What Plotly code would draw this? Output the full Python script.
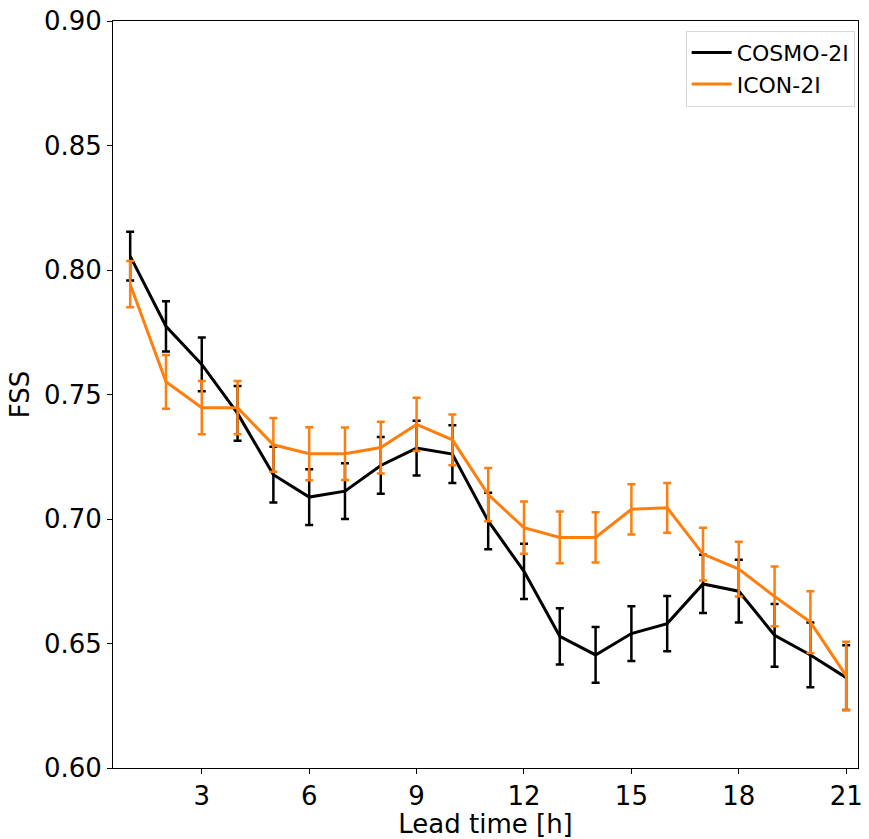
import plotly.graph_objects as go

lead_time = list(range(1, 22))

cosmo_fss = [0.8056, 0.7774, 0.7621, 0.7424, 0.7178, 0.7088, 0.7112, 0.7215, 0.7285, 0.7261,
             0.6992, 0.6790, 0.6529, 0.6454, 0.6540, 0.6580, 0.6739, 0.6710, 0.6533, 0.6454, 0.6363]
cosmo_err = [0.0098, 0.0101, 0.0108, 0.0110, 0.0112, 0.0112, 0.0112, 0.0114, 0.0110, 0.0116,
             0.0113, 0.0111, 0.0113, 0.0112, 0.0110, 0.0111, 0.0117, 0.0126, 0.0126, 0.0130, 0.0130]

icon_fss = [0.7943, 0.7551, 0.7447, 0.7447, 0.7298, 0.7262, 0.7262, 0.7287, 0.7380, 0.7318,
            0.7098, 0.6965, 0.6926, 0.6926, 0.7039, 0.7045, 0.6859, 0.6799, 0.6689, 0.6586, 0.6370]
icon_err = [0.0093, 0.0108, 0.0107, 0.0107, 0.0108, 0.0106, 0.0105, 0.0104, 0.0107, 0.0102,
            0.0107, 0.0105, 0.0104, 0.0101, 0.0101, 0.0100, 0.0106, 0.0110, 0.0120, 0.0124, 0.0137]

x_ticks = [3, 6, 9, 12, 15, 18, 21]
y_ticks = [0.60, 0.65, 0.70, 0.75, 0.80, 0.85, 0.90]

FONT = "DejaVu Sans"

fig = go.Figure()
fig.add_trace(go.Scatter(
    x=lead_time, y=cosmo_fss, mode="lines", name="COSMO-2I",
    line=dict(color="black", width=3),
    error_y=dict(type="data", array=cosmo_err, visible=True, color="black",
                 thickness=2.5, width=4),
))
fig.add_trace(go.Scatter(
    x=lead_time, y=icon_fss, mode="lines", name="ICON-2I",
    line=dict(color="#ff7f0e", width=3),
    error_y=dict(type="data", array=icon_err, visible=True, color="#ff7f0e",
                 thickness=2.5, width=4),
))

axis_common = dict(
    showline=True, linecolor="black", linewidth=1, mirror=True,
    ticks="outside", ticklen=5, tickwidth=1, tickcolor="black",
    showgrid=False, zeroline=False,
    tickfont=dict(family=FONT, size=26, color="black"),
)

fig.update_layout(
    width=869, height=839,
    margin=dict(l=113, r=6, t=20, b=67),
    paper_bgcolor="white", plot_bgcolor="white",
    font=dict(family=FONT, size=26, color="black"),
    xaxis=dict(range=[0.52, 21.33], tickvals=x_ticks, ticktext=[str(v) for v in x_ticks],
               title=dict(text="Lead time [h]", font=dict(family=FONT, size=26), standoff=4),
               **axis_common),
    yaxis=dict(range=[0.60, 0.90], tickvals=y_ticks, ticktext=[f"{v:.2f}" for v in y_ticks],
               title=dict(text="FSS", font=dict(family=FONT, size=26), standoff=6),
               **axis_common),
    legend=dict(x=0.9955, y=0.987, xanchor="right", yanchor="top",
                bgcolor="white", bordercolor="#d9d9d9", borderwidth=1,
                font=dict(family=FONT, size=22, color="black"),
                itemwidth=40, tracegroupgap=0),
    showlegend=True,
)

fig.write_html("out.html")
